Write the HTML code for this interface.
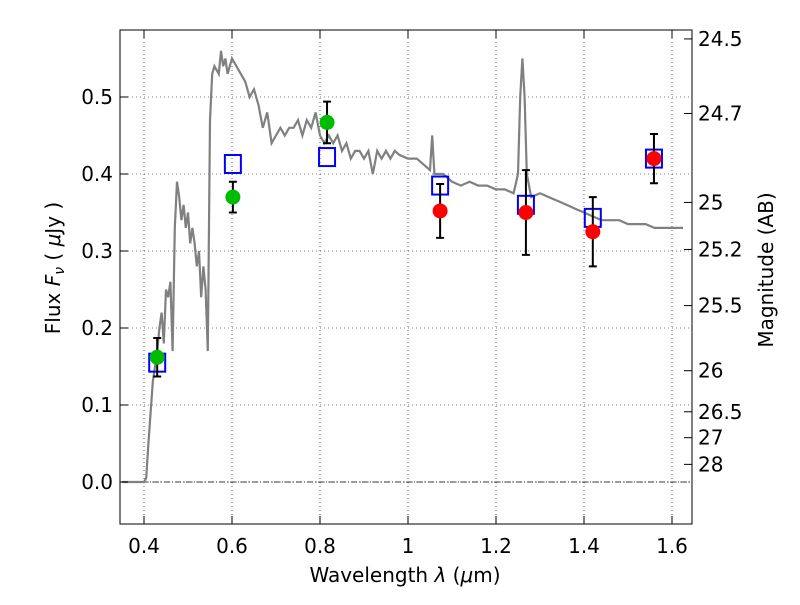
<!DOCTYPE html>
<html><head><meta charset="utf-8"><style>
body{margin:0;background:#fff;}
svg text{font-family:"DejaVu Sans","Liberation Sans",sans-serif;fill:#000;}
</style></head><body>
<svg id="chart" width="800" height="600" xmlns="http://www.w3.org/2000/svg">
<g id="grid"></g>
<line x1="120" y1="482" x2="692" y2="482" stroke="#000" stroke-width="0.8" stroke-dasharray="6,2,1,2"/>
<path id="spec" fill="none" stroke="#808080" stroke-width="2.2"/>
<g id="marks"></g>
<rect x="120" y="30" width="572" height="494" fill="none" stroke="#000" stroke-width="1"/>
<g id="ticks"></g>
<text x="405" y="582" font-size="20" text-anchor="middle">Wavelength  <tspan font-style="italic">λ</tspan> (<tspan font-style="italic">μ</tspan>m)</text>
<text transform="translate(60,268) rotate(-90)" font-size="20" text-anchor="middle">Flux  <tspan font-style="italic">F</tspan><tspan font-style="italic" font-size="14" dy="4">ν</tspan><tspan dy="-4">  ( </tspan><tspan font-style="italic">μ</tspan>Jy )</text>
<text transform="translate(773,270) rotate(-90)" font-size="20" text-anchor="middle">Magnitude (AB)</text>
</svg>
<script>
const specLam=[0.35,0.40,0.405,0.41,0.42,0.43,0.435,0.44,0.445,0.45,0.455,0.46,0.465,0.47,0.475,0.48,0.485,0.49,0.495,0.5,0.505,0.51,0.515,0.52,0.525,0.53,0.535,0.54,0.545,0.55,0.555,0.56,0.57,0.575,0.58,0.585,0.59,0.6,0.61,0.62,0.63,0.64,0.65,0.66,0.67,0.68,0.69,0.7,0.71,0.72,0.73,0.74,0.75,0.76,0.77,0.78,0.79,0.8,0.81,0.82,0.83,0.84,0.85,0.86,0.87,0.88,0.89,0.9,0.91,0.92,0.93,0.94,0.95,0.96,0.97,0.98,1.0,1.02,1.04,1.05,1.055,1.06,1.08,1.1,1.12,1.14,1.16,1.18,1.2,1.22,1.24,1.25,1.255,1.26,1.265,1.27,1.28,1.3,1.32,1.34,1.36,1.38,1.4,1.42,1.44,1.46,1.48,1.5,1.52,1.54,1.56,1.58,1.6,1.625];
const specFlux=[0,0,0.005,0.05,0.13,0.17,0.2,0.22,0.18,0.25,0.24,0.26,0.17,0.33,0.39,0.37,0.34,0.36,0.33,0.35,0.31,0.33,0.31,0.28,0.3,0.24,0.28,0.25,0.17,0.47,0.53,0.54,0.53,0.56,0.54,0.55,0.53,0.55,0.54,0.53,0.52,0.5,0.51,0.49,0.46,0.48,0.44,0.45,0.46,0.45,0.46,0.46,0.47,0.45,0.47,0.46,0.48,0.45,0.44,0.45,0.44,0.45,0.43,0.44,0.42,0.43,0.43,0.42,0.43,0.40,0.43,0.42,0.43,0.42,0.43,0.425,0.42,0.42,0.41,0.405,0.45,0.40,0.40,0.39,0.385,0.39,0.385,0.385,0.38,0.38,0.375,0.40,0.50,0.55,0.50,0.40,0.37,0.375,0.37,0.365,0.36,0.355,0.35,0.345,0.34,0.34,0.34,0.335,0.335,0.335,0.33,0.33,0.33,0.33];
const greenLam=[0.43,0.602,0.816];
const greenFlux=[0.162,0.370,0.467];
const greenErr=[0.025,0.02,0.027];
const redLam=[1.073,1.268,1.42,1.559];
const redFlux=[0.352,0.350,0.325,0.420];
const redErr=[0.035,0.055,0.045,0.032];
const boxLam=[0.43,0.602,0.816,1.073,1.268,1.42,1.559];
const boxFlux=[0.155,0.413,0.422,0.385,0.36,0.343,0.420];
const xTicks=[0.4,0.6,0.8,1.0,1.2,1.4,1.6];
const xTickLabels=["0.4","0.6","0.8","1","1.2","1.4","1.6"];
const yTicks=[0,0.1,0.2,0.3,0.4,0.5];
const yTickLabels=["0.0","0.1","0.2","0.3","0.4","0.5"];
const magTicks=[24.5,24.7,25,25.2,25.5,26,26.5,27,28];

const X=l=>144+(l-0.4)*440;
const Y=f=>482-f*770;
const NS="http://www.w3.org/2000/svg";
function mk(parent,tag,attrs){const e=document.createElementNS(NS,tag);for(const k in attrs)e.setAttribute(k,attrs[k]);parent.appendChild(e);return e;}
const grid=document.getElementById('grid'),ticks=document.getElementById('ticks'),marks=document.getElementById('marks');

xTicks.forEach((t,i)=>{const x=X(t);
 let g=mk(grid,'line',{x1:x,x2:x,y1:30,y2:524,stroke:'#000','stroke-width':0.6,'stroke-dasharray':'1,3'});
 
 let a=mk(ticks,'line',{x1:x,x2:x,y1:524,y2:516,stroke:'#000'});
 let b=mk(ticks,'line',{x1:x,x2:x,y1:30,y2:38,stroke:'#000'});
 let tx=mk(ticks,'text',{x:x,y:553,'font-size':20,'text-anchor':'middle'});tx.textContent=xTickLabels[i];
 
});
yTicks.forEach((t,i)=>{const y=Y(t);
 let g=mk(grid,'line',{x1:120,x2:692,y1:y,y2:y,stroke:'#000','stroke-width':0.6,'stroke-dasharray':'1,3'});
 
 let a=mk(ticks,'line',{x1:120,x2:128,y1:y,y2:y,stroke:'#000'});
 let tx=mk(ticks,'text',{x:113,y:y+7,'font-size':20,'text-anchor':'end'});tx.textContent=yTickLabels[i];
 
});
magTicks.forEach(m=>{const f=Math.pow(10,(23.9-m)/2.5);const y=Y(f);
 let a=mk(ticks,'line',{x1:684,x2:692,y1:y,y2:y,stroke:'#000'});
 let tx=mk(ticks,'text',{x:698,y:y+7,'font-size':20});tx.textContent=String(m);
 
});
document.getElementById('spec').setAttribute('d',specLam.map((l,i)=>(i?'L':'M')+X(l).toFixed(1)+','+Y(specFlux[i]).toFixed(1)).join(''));
boxLam.forEach((l,i)=>{
 let r=mk(marks,'rect',{x:X(l)-8,y:Y(boxFlux[i])-9,width:16,height:18,fill:'none',stroke:'#0000ff','stroke-width':2});
 
});
function pts(lam,flux,err,color,name){lam.forEach((l,i)=>{const x=X(l);
 let e=mk(marks,'path',{d:`M${x},${Y(flux[i]-err[i])}V${Y(flux[i]+err[i])}M${x-4},${Y(flux[i]-err[i])}h8M${x-4},${Y(flux[i]+err[i])}h8`,stroke:'#000','stroke-width':2,fill:'none'});
 
 let c=mk(marks,'circle',{cx:x,cy:Y(flux[i]),r:7.5,fill:color});
 
});}
pts(greenLam,greenFlux,greenErr,'#00bb00','optical-point');
pts(redLam,redFlux,redErr,'#ff0000','nir-point');
</script>
</body></html>
